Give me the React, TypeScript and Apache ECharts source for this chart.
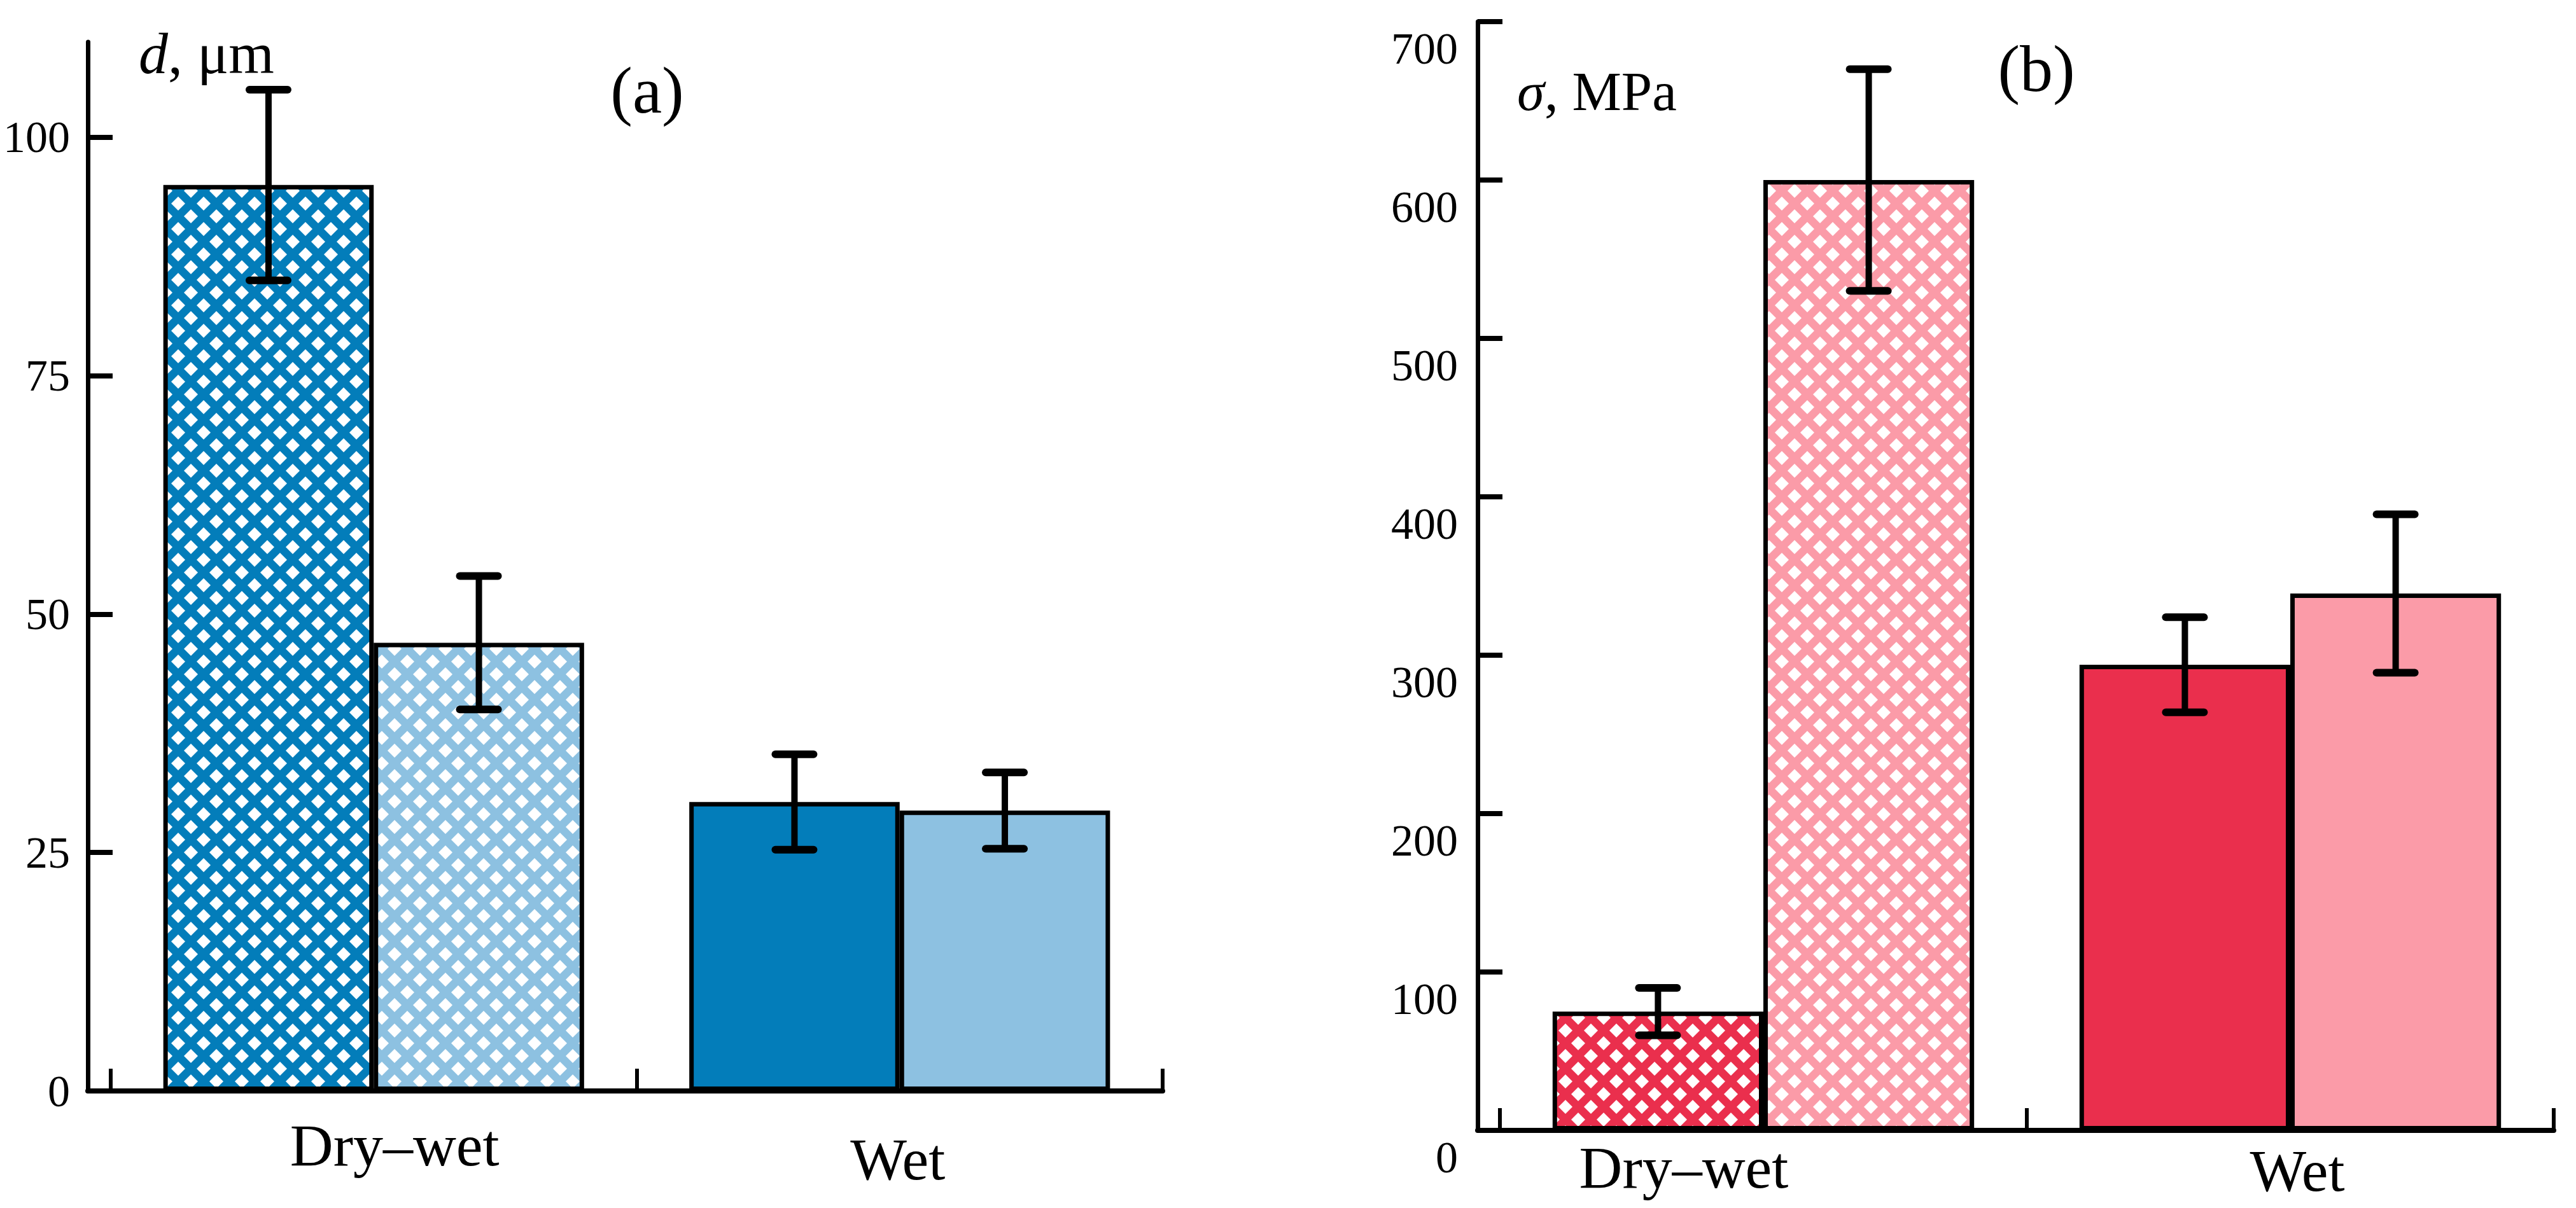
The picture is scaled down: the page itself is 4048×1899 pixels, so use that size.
import React, { useEffect, useRef } from "react";
import * as echarts from "echarts";

// ---- data ----
const categories = ["Dry–wet", "Wet"];
// panel (a): d, μm
const dDark = [95, 30.3];
const dDarkErr = [10, 5];
const dLight = [47, 29.4];
const dLightErr = [7, 4];
const dTicks = [0, 25, 50, 75, 100];
// panel (b): σ, MPa
const sDark = [75, 294];
const sDarkErr = [15, 30];
const sLight = [600, 339];
const sLightErr = [70, 50];
// which categories are hatched (Dry–wet) vs solid (Wet)
const hatched = [true, false];

const BLUE_DARK = "#037DBA";
const BLUE_LIGHT = "#8DC1E1";
const RED_DARK = "#EA2F4D";
const RED_LIGHT = "#FB9BA8";
const FONT = "Liberation Serif";

function hatch(color: string) {
  const w = 40, h = 40, r = 11;
  const c = document.createElement("canvas");
  c.width = w; c.height = h;
  const ctx = c.getContext("2d")!;
  ctx.fillStyle = color;
  ctx.fillRect(0, 0, w, h);
  ctx.fillStyle = "#fff";
  const dia = (x: number, y: number) => {
    ctx.beginPath();
    ctx.moveTo(x, y - r);
    ctx.lineTo(x + r, y);
    ctx.lineTo(x, y + r);
    ctx.lineTo(x - r, y);
    ctx.closePath();
    ctx.fill();
  };
  dia(w / 2, h / 2); dia(0, 0); dia(w, 0); dia(0, h); dia(w, h);
  return { image: c, repeat: "repeat", imageWidth: w, imageHeight: h };
}

function barData(vals: number[], color: string) {
  return vals.map((v, i) => ({
    value: v,
    itemStyle: { color: hatched[i] ? hatch(color) : color },
  }));
}

function errData(vals: number[], errs: number[], side: number) {
  return vals.map((v, i) => [i, v - errs[i], v + errs[i], side]);
}

const errRender = (params: any, api: any) => {
  const cat = api.value(0);
  const side = api.value(3);
  const base = api.coord([cat, 0]);
  const band = api.size([1, 0])[0];
  const cx = base[0] + side * band * 0.2;
  const yLo = api.coord([cat, api.value(1)])[1];
  const yHi = api.coord([cat, api.value(2)])[1];
  const capHalf = 30;
  const st = { stroke: "#000", lineWidth: 10 };
  const capSt = { stroke: "#000", lineWidth: 12, lineCap: "round" };
  return {
    type: "group",
    children: [
      { type: "line", shape: { x1: cx, y1: yLo, x2: cx, y2: yHi }, style: st },
      { type: "line", shape: { x1: cx - capHalf, y1: yLo, x2: cx + capHalf, y2: yLo }, style: capSt },
      { type: "line", shape: { x1: cx - capHalf, y1: yHi, x2: cx + capHalf, y2: yHi }, style: capSt },
    ],
  };
};

export default function App() {
  const ref = useRef<HTMLDivElement>(null);
  useEffect(() => {
    const chart = echarts.init(ref.current!, null, { renderer: "svg" });
    const lineAxisX = (gridIndex: number) => ({
      gridIndex, type: "value", min: 0, max: 1,
      axisLine: { show: true, onZero: false, lineStyle: { color: "#000", width: 8 } },
      axisTick: { show: false }, axisLabel: { show: false }, splitLine: { show: false },
    });
    const catX = (gridIndex: number, labelStyles: any[], margin: number) => ({
      gridIndex, type: "category", boundaryGap: true,
      data: categories.map((c, i) => ({ value: c, textStyle: labelStyles[i] })),
      axisLine: { show: false },
      axisTick: { show: true, inside: true, length: 35, lineStyle: { color: "#000", width: 6 } },
      axisLabel: { show: true, fontFamily: FONT, fontSize: 94, color: "#000", margin },
      splitLine: { show: false },
    });
    const hiddenY = (gridIndex: number, max: number) => ({
      gridIndex, type: "value", min: 0, max, show: false, splitLine: { show: false },
    });
    const barBase = {
      type: "bar", barGap: "0%", barCategoryGap: "20%",
      itemStyle: { borderColor: "#000", borderWidth: 7 },
    };
    chart.setOption({
      animation: false,
      backgroundColor: "#fff",
      grid: [
        { left: 138, right: 2221, top: 66, bottom: 184 },
        { left: 174, right: 2221, top: 66, bottom: 184 },
        { left: 2322, right: 35, top: 34, bottom: 122 },
        { left: 2357, right: 35, top: 34, bottom: 122 },
      ],
      xAxis: [
        lineAxisX(0),
        catX(1, [{ padding: [0, 0, 0, 66] }, { padding: [22, 6, 0, 0] }], 38),
        lineAxisX(2),
        catX(3, [{ padding: [0, 250, 0, 0] }, { padding: [5, 0, 0, 22] }], 11),
      ],
      yAxis: [
        {
          gridIndex: 0, type: "value", min: 0, max: 110,
          axisLine: { show: true, lineStyle: { color: "#000", width: 7 } },
          axisTick: { show: true, inside: true, length: 39, customValues: dTicks, lineStyle: { color: "#000", width: 8 } },
          axisLabel: { show: true, customValues: dTicks, fontFamily: FONT, fontSize: 70, color: "#000", margin: 28 },
          splitLine: { show: false },
        },
        hiddenY(1, 110),
        {
          gridIndex: 2, type: "value", min: 0, max: 700, interval: 100,
          axisLine: { show: true, lineStyle: { color: "#000", width: 7 } },
          axisTick: { show: true, inside: true, length: 39, lineStyle: { color: "#000", width: 8 } },
          axisLabel: {
            show: true, fontFamily: FONT, fontSize: 70, color: "#000", margin: 31,
            verticalAlign: "top", lineHeight: 84,
          },
          splitLine: { show: false },
        },
        hiddenY(3, 700),
      ],
      series: [
        { ...barBase, name: "d dark", xAxisIndex: 1, yAxisIndex: 1, data: barData(dDark, BLUE_DARK) },
        { ...barBase, name: "d light", xAxisIndex: 1, yAxisIndex: 1, data: barData(dLight, BLUE_LIGHT) },
        { ...barBase, name: "s dark", xAxisIndex: 3, yAxisIndex: 3, data: barData(sDark, RED_DARK) },
        { ...barBase, name: "s light", xAxisIndex: 3, yAxisIndex: 3, data: barData(sLight, RED_LIGHT) },
        {
          type: "custom", xAxisIndex: 1, yAxisIndex: 1, z: 10, renderItem: errRender,
          encode: { x: 0, y: [1, 2] },
          data: [...errData(dDark, dDarkErr, -1), ...errData(dLight, dLightErr, 1)],
        },
        {
          type: "custom", xAxisIndex: 3, yAxisIndex: 3, z: 10, renderItem: errRender,
          encode: { x: 0, y: [1, 2] },
          data: [...errData(sDark, sDarkErr, -1), ...errData(sLight, sLightErr, 1)],
        },
      ],
      graphic: [
        {
          type: "text", x: 218, y: 84,
          style: {
            text: "{i|d}, μm", fontFamily: FONT, fontSize: 92, fill: "#000",
            align: "left", verticalAlign: "middle",
            rich: { i: { fontFamily: FONT, fontSize: 92, fontStyle: "italic" } },
          },
        },
        {
          type: "text", x: 2384, y: 143,
          style: {
            text: "{i|σ}, MPa", fontFamily: FONT, fontSize: 87, fill: "#000",
            align: "left", verticalAlign: "middle",
            rich: { i: { fontFamily: FONT, fontSize: 87, fontStyle: "italic" } },
          },
        },
        {
          type: "text", x: 1017, y: 141,
          style: { text: "(a)", fontFamily: FONT, fontSize: 104, fill: "#000", align: "center", verticalAlign: "middle" },
        },
        {
          type: "text", x: 3200, y: 107,
          style: { text: "(b)", fontFamily: FONT, fontSize: 104, fill: "#000", align: "center", verticalAlign: "middle" },
        },
      ],
    });
    return () => chart.dispose();
  }, []);
  return (
    <div
      ref={ref}
      style={{ position: "fixed", left: 0, top: 0, width: 4048, height: 1899, background: "#fff" }}
    />
  );
}
